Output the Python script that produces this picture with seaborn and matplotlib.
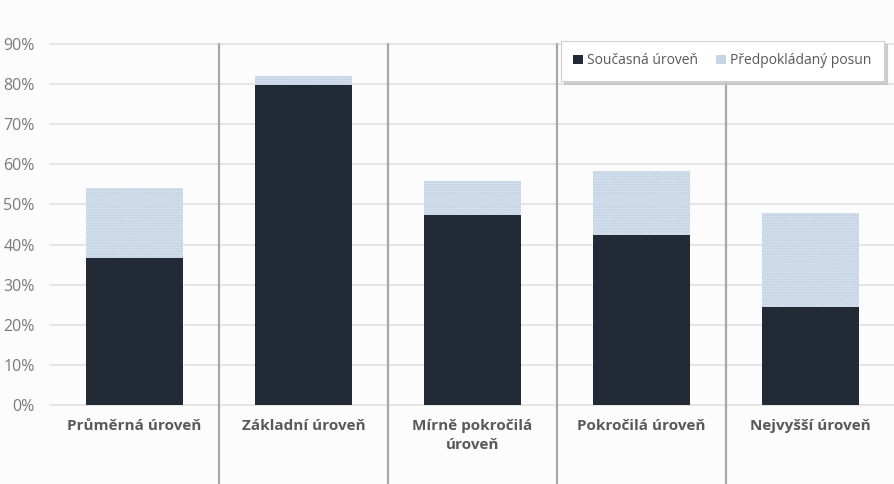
import matplotlib
matplotlib.use("Agg")
import matplotlib.pyplot as plt
import seaborn as sns
import pandas as pd
from matplotlib.patches import Patch
from matplotlib.ticker import FuncFormatter

categories = ["Průměrná úroveň", "Základní úroveň", "Mírně pokročilá\núroveň",
              "Pokročilá úroveň", "Nejvyšší úroveň"]
current = [36.6, 79.8, 47.4, 42.3, 24.5]
shift = [17.4, 2.1, 8.5, 16.1, 23.3]
series_names = ["Současná úroveň", "Předpokládaný posun"]
yticks = [0, 10, 20, 30, 40, 50, 60, 70, 80, 90]

dark = "#222a35"
light = "#c7d6e7"
bg = "#fcfcfc"

sns.set_theme(style="white")
plt.rcParams["font.family"] = ["Open Sans", "DejaVu Sans"]
plt.rcParams["hatch.linewidth"] = 0.6

df = pd.DataFrame({"cat": categories, "current": current,
                   "total": [c + s for c, s in zip(current, shift)]})

fig = plt.figure(figsize=(8.95, 4.84), dpi=100, facecolor=bg)
ax = fig.add_axes([50 / 895, 1 - 405 / 484, 845 / 895, 361 / 484])
ax.set_facecolor(bg)

sns.barplot(data=df, x="cat", y="total", color=light, width=0.57,
            saturation=1, ax=ax, zorder=3)
for p in ax.patches:
    p.set_hatch("......")
    p.set_edgecolor("#e2eaf3")
    p.set_linewidth(0)
n_light = len(ax.patches)
sns.barplot(data=df, x="cat", y="current", color=dark, width=0.57,
            saturation=1, ax=ax, zorder=4)
for p in ax.patches[n_light:]:
    p.set_edgecolor(dark)
    p.set_linewidth(0)

ax.set_xlim(-0.5, len(categories) - 0.5)
ax.set_ylim(0, 90)
ax.set_yticks(yticks)
ax.yaxis.set_major_formatter(FuncFormatter(lambda v, _: f"{v:.0f}%"))
for y in yticks:
    ax.axhline(y, color="#dedede", lw=1.1, zorder=1, clip_on=False)

for i in range(len(categories) - 1):
    ax.axvline(i + 0.5, ymin=-79 / 361, ymax=1, color="#a8a8a8", lw=1.6,
               clip_on=False, zorder=2)

for s in ax.spines.values():
    s.set_visible(False)
ax.tick_params(axis="both", length=0)
ax.tick_params(axis="y", labelsize=11.5, labelcolor="#7a7a7a", pad=11)
ax.tick_params(axis="x", labelsize=11, labelcolor="#595959", pad=10)
for t in ax.get_xticklabels():
    t.set_fontweight("bold")
    t.set_linespacing(1.45)
ax.set_xlabel("")
ax.set_ylabel("")

handles = [Patch(facecolor=dark, edgecolor="none"),
           Patch(facecolor=light, edgecolor="none")]
leg = fig.legend(handles, series_names, loc="upper right",
                 bbox_to_anchor=(891 / 895, 1 - 34 / 484), ncol=2,
                 fontsize=10, frameon=True, fancybox=False,
                 shadow={"color": "#c4c4c4", "alpha": 0.8, "ox": 2, "oy": -2},
                 handlelength=0.7, handleheight=0.7, handletextpad=0.3,
                 columnspacing=1.3, borderpad=0.9, labelcolor="#595959")
leg.get_frame().set_edgecolor("#d0d0d0")
leg.get_frame().set_linewidth(0.8)

fig.savefig("out.png", dpi=100, facecolor=bg)
